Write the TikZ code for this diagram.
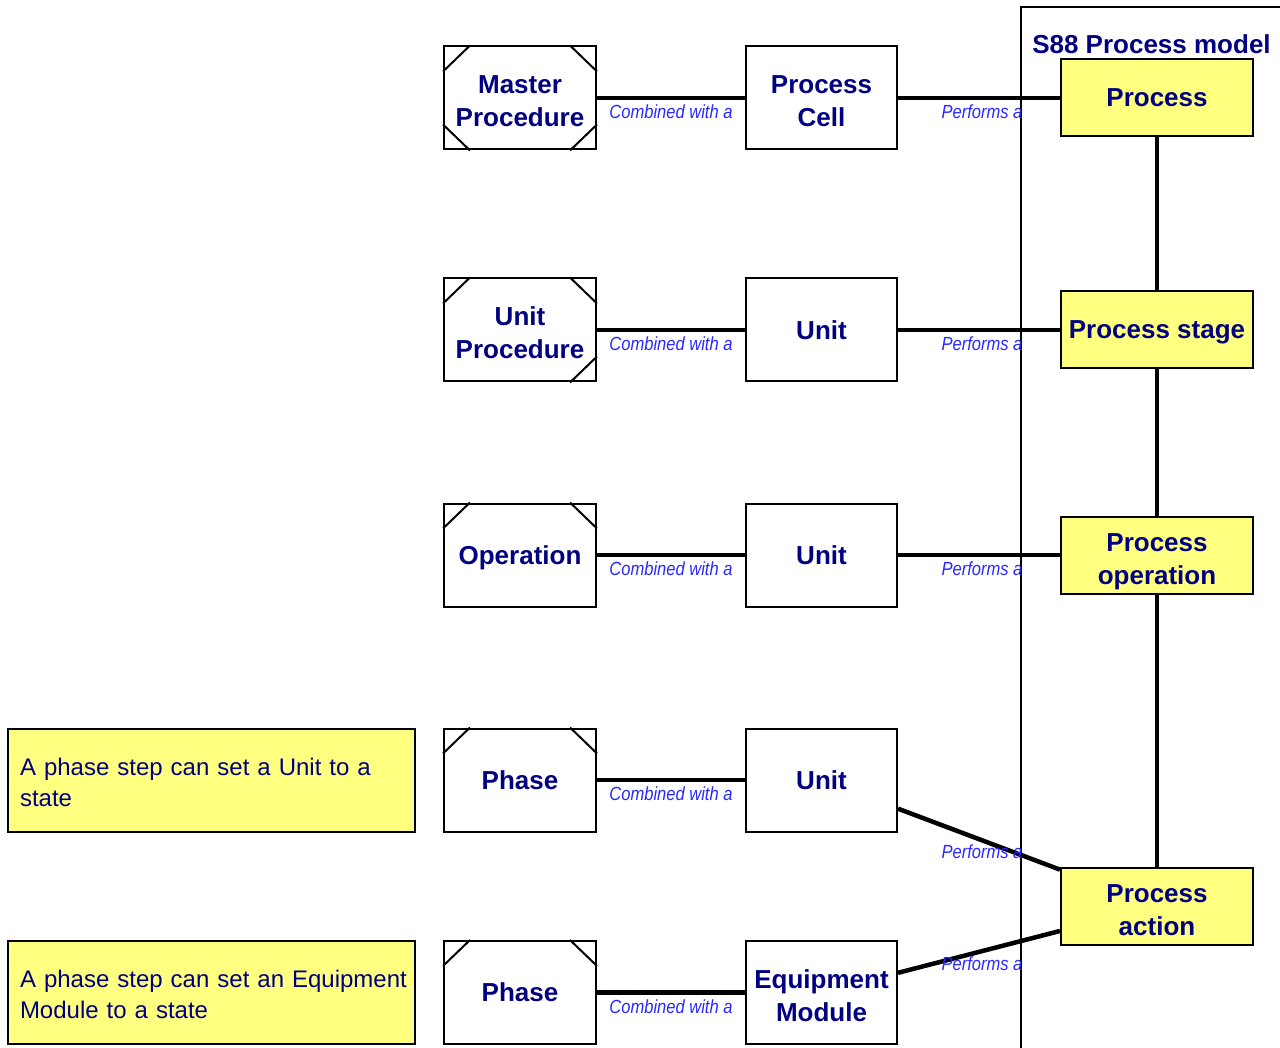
\documentclass[tikz,border=0pt]{standalone}
\usepackage{fontspec}
\setmainfont{Liberation Sans}
\usepackage{graphicx}
\definecolor{navy}{RGB}{0,0,128}
\definecolor{lblblue}{RGB}{40,40,255}
\definecolor{pyellow}{RGB}{255,255,128}
\tikzset{
 box/.style={draw=black, line width=2pt, fill=white, minimum width=152pt, minimum height=103pt, inner sep=0pt, align=center, text=navy, text depth=0pt, font=\bfseries\fontsize{26}{33}\selectfont},
 ybox/.style={box, fill=pyellow, minimum width=192pt, minimum height=77pt},
 note/.style={draw=black, line width=2pt, fill=pyellow, minimum height=103pt, text width=383pt, inner xsep=12pt, inner ysep=0pt, align=left, text=navy, font=\fontsize{24}{31}\selectfont},
 conn/.style={line width=4.5pt},
 lbl/.style={text=lblblue, font=\itshape\fontsize{19}{22}\selectfont, inner sep=0pt},
 cut/.style={line width=2pt},
 frame/.style={line width=2pt},
}
\newcommand\cutTL[1]{\draw[cut] ([xshift=27pt]#1.north west) -- ([yshift=-26pt]#1.north west);}
\newcommand\cutTR[1]{\draw[cut] ([xshift=-27pt]#1.north east) -- ([yshift=-26pt]#1.north east);}
\newcommand\cutBL[1]{\draw[cut] ([xshift=27pt]#1.south west) -- ([yshift=26pt]#1.south west);}
\newcommand\cutBR[1]{\draw[cut] ([xshift=-27pt]#1.south east) -- ([yshift=26pt]#1.south east);}
\newcommand\lbltext[1]{\scalebox{0.87}[1]{#1}}
\newcommand\fstrut{\rule{0pt}{25pt}}
\newcommand\nstrut{\rule{0pt}{22pt}}
\begin{document}
\begin{tikzpicture}[x=1pt,y=-1pt]
\useasboundingbox (0,0) rectangle (1280,1048);
% frame of the S88 process model
\coordinate (fb) at (1021,1048);
\coordinate (ft) at (1021,7);
\coordinate (fr) at (1280,7);
\draw[frame] (fb) -- (ft) -- (fr);
\node[text=navy, font=\bfseries\fontsize{26}{31}\selectfont, inner sep=0pt] (title) at (1151.5,44) {S88 Process model};

% procedure boxes
\node[box] (mp) at (520,98) {\fstrut Master\\Procedure};
\node[box] (up) at (520,330) {\fstrut Unit\\Procedure};
\node[box] (op) at (520,555) {Operation};
\node[box] (ph1) at (520,780) {Phase};
\node[box] (ph2) at (520,992.5) {Phase};
\cutTL{mp}\cutTR{mp}\cutBL{mp}\cutBR{mp}
\cutTL{up}\cutTR{up}\cutBR{up}
\cutTL{op}\cutTR{op}
\cutTL{ph1}\cutTR{ph1}
\cutTL{ph2}\cutTR{ph2}

% equipment boxes
\node[box, minimum width=151pt] (pc) at (821.5,98) {\fstrut Process\\Cell};
\node[box, minimum width=151pt] (u1) at (821.5,330) {Unit};
\node[box, minimum width=151pt] (u2) at (821.5,555) {Unit};
\node[box, minimum width=151pt] (u3) at (821.5,780) {Unit};
\node[box, minimum width=151pt] (em) at (821.5,992.5) {\fstrut Equipment\\Module};

% process model boxes
\node[ybox] (pr) at (1157,98) {Process};
\node[ybox] (ps) at (1157,330) {Process stage};
\node[ybox] (po) at (1157,555) {\fstrut Process\\operation};
\node[ybox] (pa) at (1157,906) {\fstrut Process\\action};

% notes
\node[note] (n1) at (211.5,780) {\nstrut A phase step can set a Unit to a\\state};
\node[note] (n2) at (211.5,992.5) {\nstrut\mbox{A phase step can set an Equipment}\\Module to a state};

% connectors
\draw[conn] (mp) -- node[lbl, midway, yshift=-14pt] (c1) {\lbltext{Combined with a}} (pc);
\draw[conn] (up) -- node[lbl, midway, yshift=-14pt] (c2) {\lbltext{Combined with a}} (u1);
\draw[conn] (op) -- node[lbl, midway, yshift=-14pt] (c3) {\lbltext{Combined with a}} (u2);
\draw[conn] (ph1) -- node[lbl, midway, yshift=-14pt] (c4) {\lbltext{Combined with a}} (u3);
\draw[conn] (ph2) -- node[lbl, midway, yshift=-14pt] (c5) {\lbltext{Combined with a}} (em);

\draw[conn] (pc) -- node[lbl, midway, xshift=3pt, yshift=-14pt] (p1) {\lbltext{Performs a}} (pr);
\draw[conn] (u1) -- node[lbl, midway, xshift=3pt, yshift=-14pt] (p2) {\lbltext{Performs a}} (ps);
\draw[conn] (u2) -- node[lbl, midway, xshift=3pt, yshift=-14pt] (p3) {\lbltext{Performs a}} (po);
\draw[conn] (u3) -- node[lbl, midway, xshift=3pt, yshift=-13pt] (p4) {\lbltext{Performs a}} (pa);
\draw[conn] (em) -- node[lbl, midway, xshift=3pt, yshift=-12pt] (p5) {\lbltext{Performs a}} (pa);

\draw[conn] (pr) -- (ps);
\draw[conn] (ps) -- (po);
\draw[conn] (po) -- (pa);
\end{tikzpicture}
\end{document}
